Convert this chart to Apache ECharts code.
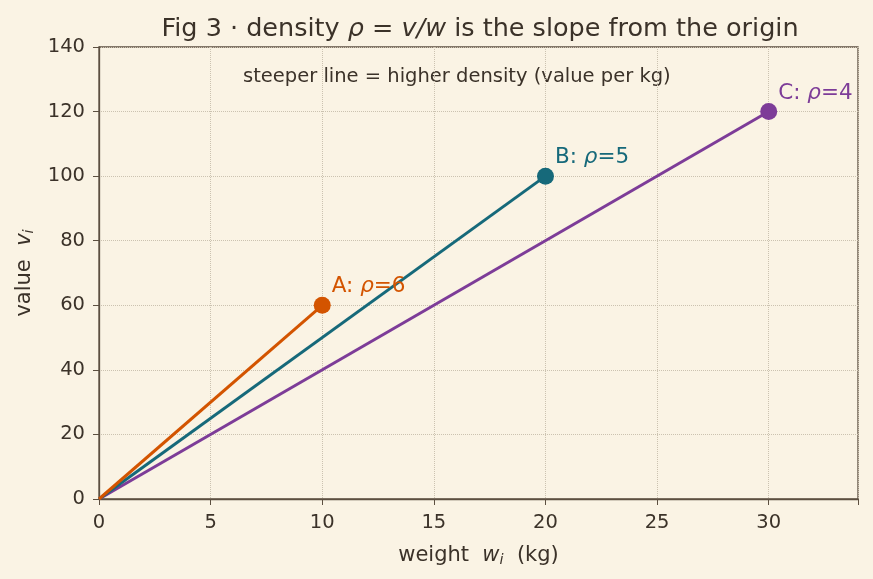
<!DOCTYPE html>
<html>
<head>
<meta charset="utf-8">
<script src="https://cdn.jsdelivr.net/npm/echarts@6/dist/echarts.min.js"></script>
<style>
  html, body { margin: 0; padding: 0; background: #faf3e4; }
  #chart { width: 873px; height: 579px; }
</style>
</head>
<body>
<div id="chart"></div>
<script>
const names = ['A', 'B', 'C']
const weights = [10, 20, 30]
const values = [60, 100, 120]
const densities = [6, 5, 4]
const colors = ['#d35400', '#16697a', '#7d3c98']
const xTicks = [0, 5, 10, 15, 20, 25, 30]
const yTicks = [0, 20, 40, 60, 80, 100, 120, 140]

const font = 'DejaVu Sans'
const ink = '#3b3229'
const axisColor = '#5c4f40'

// one line from the origin to each item, marker only at the end
const series = names.map((n, i) => ({
  type: 'line',
  name: n,
  data: [
    { value: [0, 0], symbol: 'none', label: { show: false } },
    { value: [weights[i], values[i]] }
  ],
  symbol: 'circle',
  symbolSize: 17,
  lineStyle: { color: colors[i], width: 3 },
  itemStyle: { color: colors[i] },
  z: 3 + (2 - i),
  label: {
    show: true,
    position: [18, -21],
    align: 'left',
    formatter: () => '{n|' + n + ': }{r|ρ}{n|=' + densities[i] + '}',
    rich: {
      n: { fontFamily: font, fontSize: 21.5, color: colors[i] },
      r: { fontFamily: font, fontSize: 21.5, fontStyle: 'italic', color: colors[i] }
    }
  }
}))

const chart = echarts.init(document.getElementById('chart'))
chart.setOption({
  backgroundColor: '#faf3e4',
  animation: false,
  title: {
    text: '{n|Fig 3 · density }{i|ρ}{n| = }{i|v/w}{n| is the slope from the origin}',
    left: 475,
    textAlign: 'center',
    top: 11,
    textStyle: {
      rich: {
        n: { fontFamily: font, fontSize: 25.5, color: ink, fontWeight: 'normal' },
        i: { fontFamily: font, fontSize: 25.5, color: ink, fontStyle: 'italic', fontWeight: 'normal' }
      }
    }
  },
  graphic: [{
    type: 'text',
    left: 243,
    top: 67,
    style: { text: 'steeper line = higher density (value per kg)', font: '19.5px "DejaVu Sans"', fill: ink }
  }],
  grid: {
    left: 99, right: 15, top: 47, bottom: 80,
    show: true, borderColor: axisColor, borderWidth: 1.3, backgroundColor: 'transparent'
  },
  xAxis: {
    type: 'value',
    min: 0, max: 34, interval: 5,
    name: '{n|weight  }{i|w}{s|i}{n|  (kg)}',
    nameLocation: 'middle',
    nameGap: 44,
    nameTextStyle: {
      rich: {
        n: { fontFamily: font, fontSize: 21, color: ink },
        i: { fontFamily: font, fontSize: 21, color: ink, fontStyle: 'italic' },
        s: { fontFamily: font, fontSize: 14.5, color: ink, fontStyle: 'italic', padding: [10, 0, 0, 0] }
      }
    },
    axisLine: { show: true, lineStyle: { color: axisColor, width: 1.3 } },
    axisTick: { show: true, length: 6, lineStyle: { color: axisColor } },
    axisLabel: {
      fontFamily: font, fontSize: 19.5, color: ink, margin: 14,
      formatter: v => xTicks.includes(v) ? String(v) : ''
    },
    splitLine: { show: true, lineStyle: { color: '#cbc2b0', type: 'dotted', width: 1 } }
  },
  yAxis: {
    type: 'value',
    min: 0, max: 140, interval: 20,
    name: '{n|value  }{i|v}{s|i}',
    nameLocation: 'middle',
    nameGap: 56,
    nameRotate: 90,
    nameTextStyle: {
      rich: {
        n: { fontFamily: font, fontSize: 21, color: ink },
        i: { fontFamily: font, fontSize: 21, color: ink, fontStyle: 'italic' },
        s: { fontFamily: font, fontSize: 14.5, color: ink, fontStyle: 'italic', padding: [10, 0, 0, 0] }
      }
    },
    axisLine: { show: true, lineStyle: { color: axisColor, width: 1.3 } },
    axisTick: { show: true, length: 6, lineStyle: { color: axisColor } },
    axisLabel: {
      fontFamily: font, fontSize: 19.5, color: ink, margin: 14,
      formatter: v => yTicks.includes(v) ? String(v) : ''
    },
    splitLine: { show: true, lineStyle: { color: '#cbc2b0', type: 'dotted', width: 1 } }
  },
  series: series
})
</script>
</body>
</html>
